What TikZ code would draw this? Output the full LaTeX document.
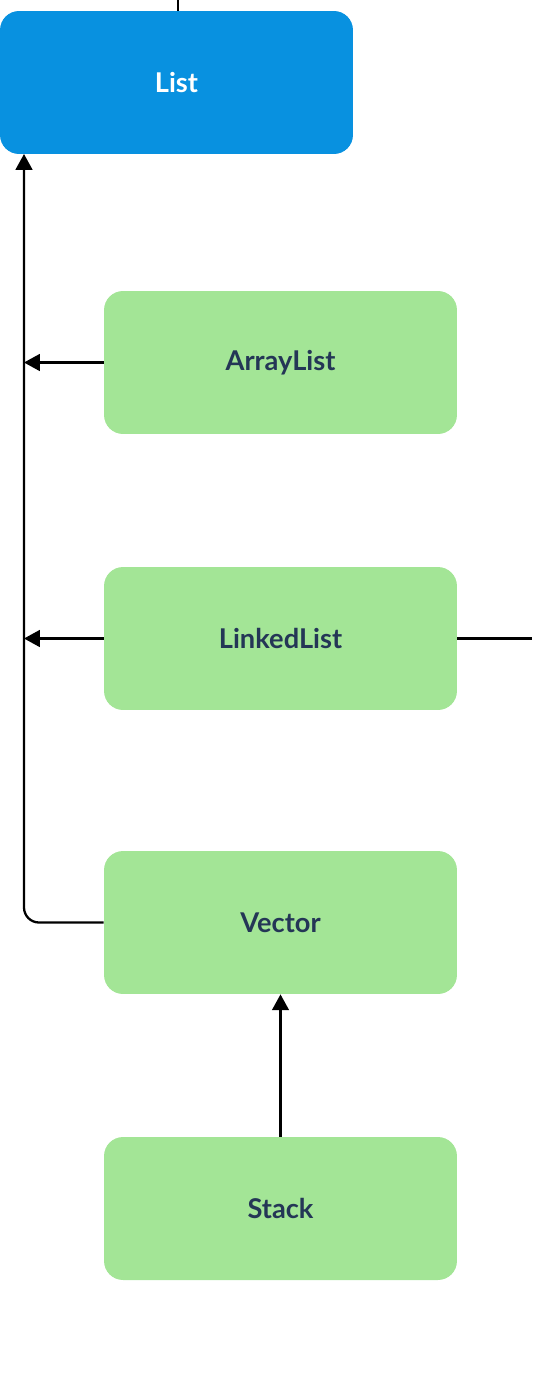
\documentclass[tikz,border=0pt]{standalone}
\usepackage{fontspec}
\setmainfont{Lato}
\usetikzlibrary{arrows.meta, positioning}
\definecolor{ifacecolor}{RGB}{8,145,224}
\definecolor{classcolor}{RGB}{163,229,150}
\definecolor{labelcolor}{RGB}{36,54,86}

\begin{document}
\begin{tikzpicture}[
    x=0.02cm, y=-0.02cm,
    iface/.style={fill=ifacecolor, text=white, minimum width=7.06cm, minimum height=2.86cm, rounded corners=0.38cm, font=\fontsize{15.5}{18}\selectfont\bfseries},
    impl/.style={fill=classcolor, text=labelcolor, minimum width=7.06cm, minimum height=2.86cm, rounded corners=0.38cm, font=\fontsize{15.5}{18}\selectfont\bfseries},
    link/.style={line width=1.3pt},
    inherit/.style={link, -{Triangle[length=9pt, width=9.5pt]}}
]
    \useasboundingbox (0,0) rectangle (532,1393);

    % Interface
    \node[iface] (list) at (176.5,82.5) {List};

    % Implementations
    \node[impl] (arraylist) at (280.5,362.5) {ArrayList};
    \node[impl] (linkedlist) at (280.5,638.5) {LinkedList};
    \node[impl] (vector) at (280.5,922.5) {Vector};
    \node[impl] (stack) at (280.5,1208.5) {Stack};

    % Loose ends
    \coordinate (top) at (178,0);
    \coordinate (trunk) at (24,154);
    \coordinate (right) at (532,638.5);

    \draw[link] (top) -- (top |- list.north);
    \draw[link] (linkedlist.east) -- (right);

    % Inheritance
    \draw[inherit, rounded corners=0.3cm] (vector.west) -| (trunk);
    \draw[inherit] (arraylist.west) -- (arraylist.west -| trunk);
    \draw[inherit] (linkedlist.west) -- (linkedlist.west -| trunk);
    \draw[inherit] (stack.north) -- (vector.south);
\end{tikzpicture}
\end{document}
